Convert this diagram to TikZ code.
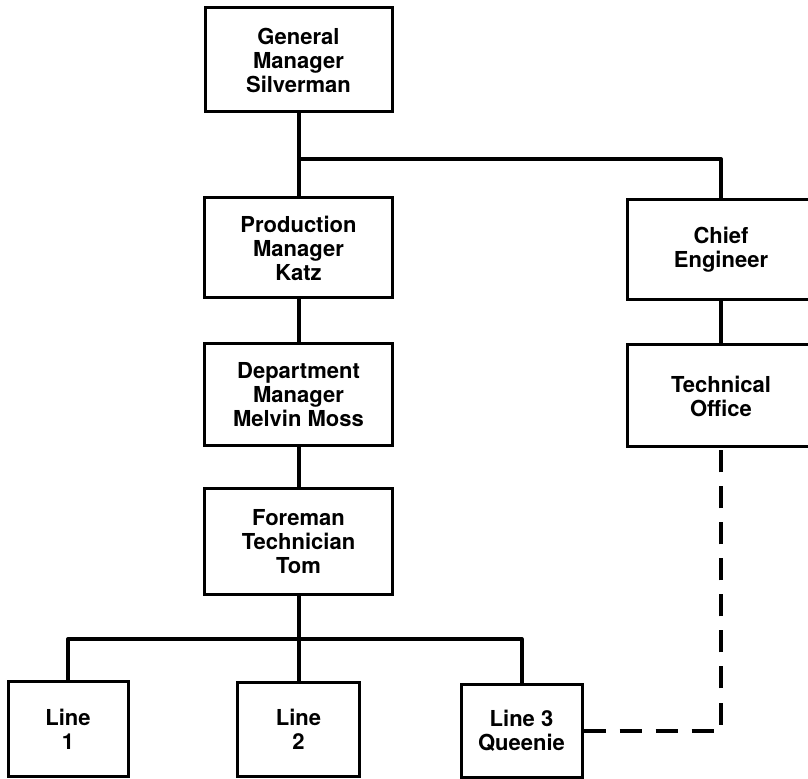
\documentclass[tikz,border=0pt]{standalone}
\usepackage{fontspec}
\setmainfont{TeX Gyre Heros}
\begin{document}
\begin{tikzpicture}[x=0.5pt,y=-0.5pt,
		box/.style={draw,line width=1.5pt,inner sep=0pt,align=center,
			font=\fontsize{11}{12}\selectfont\bfseries},
		link/.style={line width=2pt,line join=round},
		dashlink/.style={link,dash pattern=on 11pt off 7pt}]
			\useasboundingbox (0,0) rectangle (808,779);
			% top of the chart
			\node (general) [box,minimum width=93.5pt,minimum height=52pt] at (298.5,60) {General\\Manager\\Silverman};
			\node (production) [box,minimum width=94pt,minimum height=50pt] at (298.5,248) {Production\\Manager\\Katz};
			\node (department) [box,minimum width=94pt,minimum height=51pt] at (298.5,395) {Department\\Manager\\Melvin Moss};
			\node (foreman) [box,minimum width=94pt,minimum height=53pt] at (298.5,542) {Foreman\\Technician\\Tom};
			\node (chief) [box,minimum width=94pt,minimum height=50pt] at (721,250) {Chief\\Engineer};
			\node (office) [box,minimum width=94pt,minimum height=51pt] at (721,396) {Technical\\Office};
			% the three lines
			\node (line1) [box,minimum width=60pt,minimum height=47pt] at (68,729) {Line\\1};
			\node (line2) [box,minimum width=61pt,minimum height=46.5pt] at (298.5,729.5) {Line\\2};
			\node (line3) [box,minimum width=60.5pt,minimum height=46pt] at (521.5,731) {Line 3\\Queenie};
			\coordinate (upper bus) at (298.5,159);
			\coordinate (lower bus) at (298.5,639);
			\draw [link] (general) -- (production);
			\draw [link] (upper bus) -| (chief.north);
			\draw [link] (production) -- (department);
			\draw [link] (department) -- (foreman);
			\draw [link] (chief) -- (office);
			\draw [link] (foreman) -- (line2);
			\draw [link] (line1.north) |- (lower bus) -| (line3.north);
			\draw [dashlink] (line3.east) -| (office.south);
		\end{tikzpicture}
\end{document}
